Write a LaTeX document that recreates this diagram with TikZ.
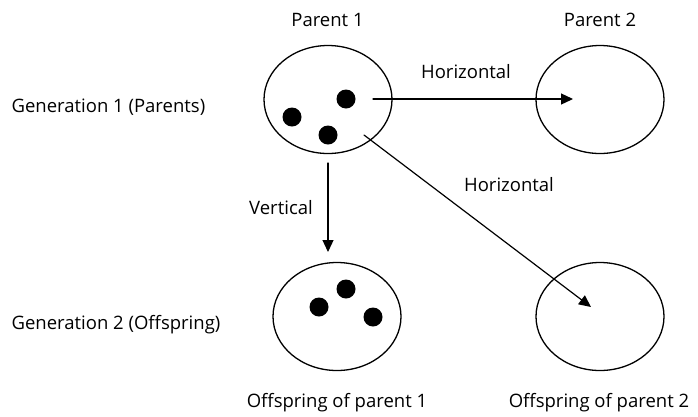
\documentclass[tikz,border=0pt]{standalone}
\usepackage{fontspec}
\setmainfont{Open Sans}
\usetikzlibrary{shapes.geometric,arrows.meta}

\begin{document}
\begin{tikzpicture}[x=1pt, y=-1pt, line width=1.2pt, line cap=round, line join=round,
    cell/.style={draw, ellipse, line width=1.3pt, minimum width=128pt, minimum height=108pt, inner sep=0pt},
    dot/.style={fill, circle, minimum size=19pt, inner sep=0pt},
    lbl/.style={inner sep=0pt, font=\fontsize{18.5}{22}\selectfont},
    arr/.style={-{Triangle[length=12pt,width=11pt]}}]

  %% ════ 椭圆 ════
  \node[cell] (par1) at (328.0,99.5) {};
  \node[cell] (par2) at (600.0,99.5) {};
  \node[cell] (off1) at (337.0,316.5) {};
  \node[cell] (off2) at (600.0,316.5) {};

  %% ════ 实心点 ════
  \node[dot] (d1a) at (346.0,99.0) {};
  \node[dot] (d1b) at (292.0,117.0) {};
  \node[dot] (d1c) at (328.0,135.0) {};
  \node[dot] (d2a) at (319.0,307.0) {};
  \node[dot] (d2b) at (346.0,289.0) {};
  \node[dot] (d2c) at (373.0,317.0) {};

  %% ════ 箭头端点 ════
  \coordinate (hAs) at (373.0,99.0);
  \coordinate (hAe) at (573.0,99.0);
  \coordinate (hBs) at (364.0,135.0);
  \coordinate (hBe) at (591.0,307.0);
  \coordinate (vs)  at (328.0,163.0);
  \coordinate (ve)  at (328.0,252.0);

  \draw[arr] (hAs) -- (hAe);
  \draw[arr] (hBs) -- (hBe);
  \draw[arr] (vs) -- (ve);

  %% ════ 标签 ════
  \node[lbl] (tP1) at (327.5,20.0) {Parent 1};
  \node[lbl] (tP2) at (600.0,20.0) {Parent 2};
  \node[lbl,anchor=west] (tG1) at (11.0,107.0) {Generation 1 (Parents)};
  \node[lbl,anchor=west] (tG2) at (11.0,325.0) {Generation 2 (Offspring)};
  \node[lbl] (tH1) at (466.0,72.0) {Horizontal};
  \node[lbl] (tH2) at (509.0,185.0) {Horizontal};
  \node[lbl] (tV)  at (281.0,208.0) {Vertical};
  \node[lbl] (tO1) at (337.0,403.0) {Offspring of parent 1};
  \node[lbl] (tO2) at (599.0,403.0) {Offspring of parent 2};

  % 钉死画布
  \pgfresetboundingbox
  \path[use as bounding box] (0,0) rectangle (698,416);
\end{tikzpicture}
\end{document}
